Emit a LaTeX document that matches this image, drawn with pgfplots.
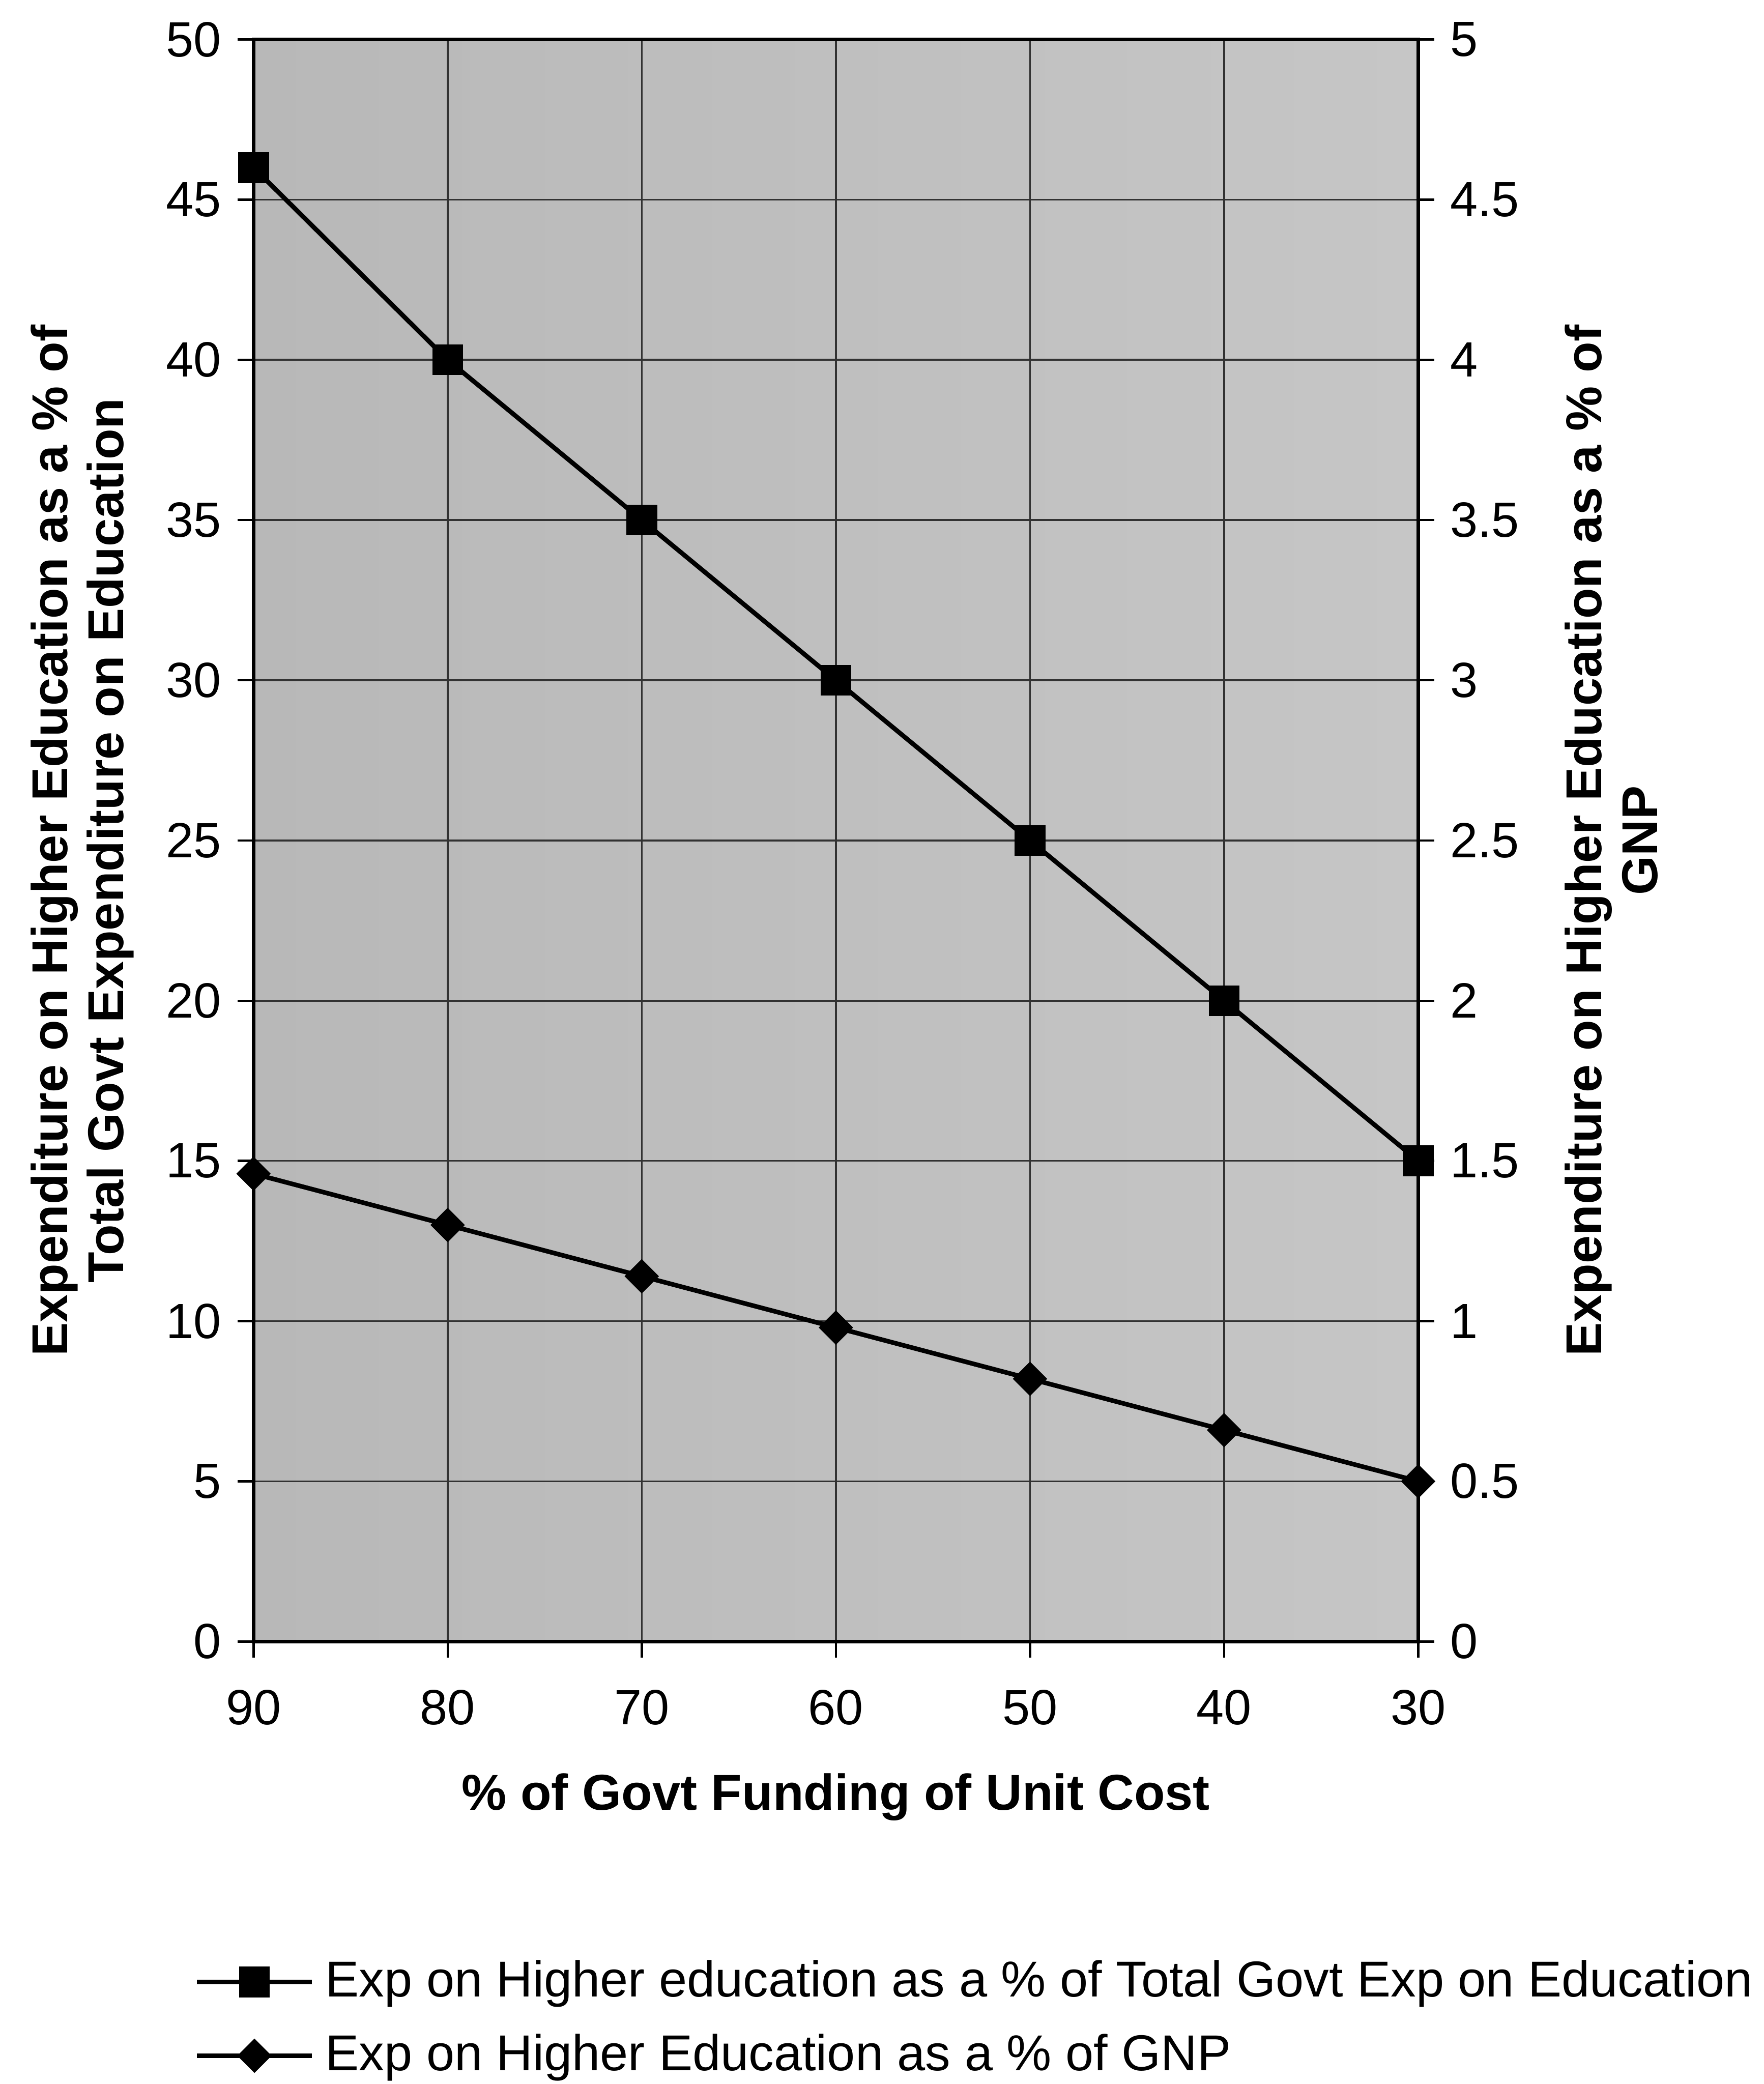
\documentclass[border=0pt]{standalone}
\usepackage{pgfplots}
\pgfplotsset{compat=1.18}
\usepackage{fontspec}
\setmainfont{Liberation Sans}
\setsansfont{Liberation Sans}

\definecolor{plotbgL}{RGB}{184,184,184}
\definecolor{plotbgR}{RGB}{198,198,198}
\definecolor{gridc}{RGB}{50,50,50}

% Exp on higher education as % of total govt exp on education (left axis)
\pgfplotstableread{
funding share
90 46
80 40
70 35
60 30
50 25
40 20
30 15
}\totaledu

% Exp on higher education as % of GNP (right axis)
\pgfplotstableread{
funding gnp
90 1.46
80 1.30
70 1.14
60 0.98
50 0.82
40 0.66
30 0.50
}\gnpshare

\begin{document}
\begin{tikzpicture}
\pgfplotsset{
  common/.style={
    scale only axis, width=254pt, height=349.4pt,
    at={(0,0)}, anchor=south west,
    xmin=30, xmax=90, x dir=reverse,
    tick align=outside, major tick length=3.5pt,
    tick style={black, line width=0.5pt},
    /pgf/number format/assume math mode=true,
    tick label style={font=\fontsize{10.8}{13}\selectfont},
    label style={font=\fontsize{11}{12.2}\selectfont\bfseries},
  },
  seriesline/.style={black, line width=1pt},
  sqmark/.style={seriesline, mark=square*, mark size=2.85pt, mark options={solid, fill=black}},
  dmmark/.style={seriesline, mark=square*, mark size=2.15pt, mark options={solid, fill=black, rotate=45}},
}
\begin{axis}[common,
  ymin=0, ymax=50, ytick={0,5,...,50},
  xtick={30,40,...,90},
  xtick pos=bottom, ytick pos=left,
  xticklabel style={yshift=-3.5pt},
  grid=major, grid style={gridc, line width=0.4pt},
  axis background/.style={left color=plotbgL, right color=plotbgR},
  axis line style={black, line width=0.8pt},
  xlabel={\% of Govt Funding of Unit Cost},
  xlabel style={at={(axis description cs:0.5,-0.097)}, anchor=center},
  ylabel={Expenditure on Higher Education as a \% of\\Total Govt Expenditure on Education},
  ylabel style={align=center, at={(axis description cs:-0.147,0.5)}, anchor=center},
  legend cell align=left,
  legend image code/.code={%
    \draw[mark repeat=2, mark phase=2, #1] plot coordinates {(0pt,0pt) (12.5pt,0pt) (25pt,0pt)};},
  legend style={at={(axis description cs:-0.063,-0.187)}, anchor=north west,
    draw=none, fill=none, font=\fontsize{11}{13}\selectfont, row sep=2.6pt,
    nodes={inner xsep=2.5pt}},
]
\addplot[sqmark] table[x=funding, y=share] {\totaledu};
\addlegendentry{Exp on Higher education as a \% of Total Govt Exp on Education}
\addlegendimage{dmmark}
\addlegendentry{Exp on Higher Education as a \% of GNP}
\end{axis}

\begin{axis}[common,
  ymin=0, ymax=5, ytick={0,0.5,...,5},
  hide x axis,
  axis y line*=right,
  axis line style={black, line width=0.8pt},
  ylabel={Expenditure on Higher Education as a \% of\\GNP},
  ylabel style={align=center, at={(axis description cs:1.166,0.5)}, anchor=center},
]
\addplot[dmmark] table[x=funding, y=gnp] {\gnpshare};
\end{axis}

\pgfresetboundingbox
\path (-55.3pt,-96.5pt) rectangle (329.4pt,358pt);
\end{tikzpicture}
\end{document}
